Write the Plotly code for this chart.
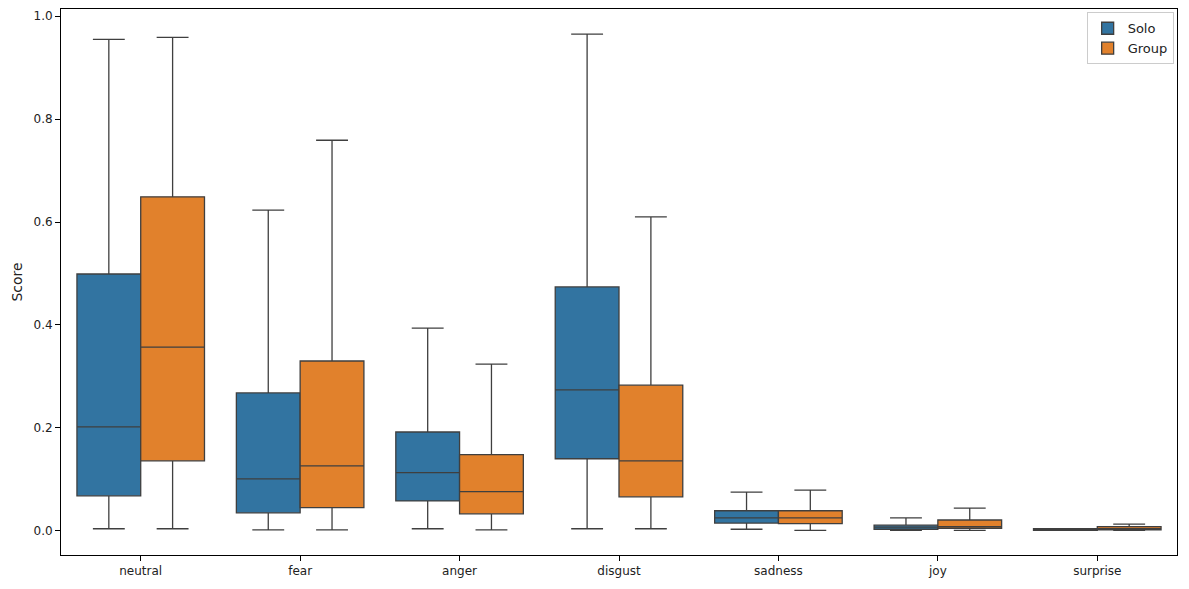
import plotly.graph_objects as go

categories = ["neutral", "fear", "anger", "disgust", "sadness", "joy", "surprise"]

solo_lower = [0.004, 0.002, 0.004, 0.004, 0.003, 0.001, 0.001]
solo_q1 = [0.068, 0.035, 0.058, 0.140, 0.015, 0.003, 0.001]
solo_median = [0.202, 0.101, 0.113, 0.274, 0.025, 0.007, 0.002]
solo_q3 = [0.499, 0.268, 0.192, 0.474, 0.039, 0.011, 0.004]
solo_upper = [0.955, 0.623, 0.394, 0.965, 0.075, 0.025, 0.004]

group_lower = [0.004, 0.002, 0.002, 0.004, 0.001, 0.001, 0.001]
group_q1 = [0.136, 0.045, 0.033, 0.066, 0.014, 0.005, 0.002]
group_median = [0.357, 0.126, 0.076, 0.136, 0.025, 0.008, 0.004]
group_q3 = [0.649, 0.330, 0.148, 0.283, 0.039, 0.021, 0.008]
group_upper = [0.959, 0.759, 0.324, 0.610, 0.079, 0.044, 0.013]

FONT = "DejaVu Sans"
LINE = "#3f3f3f"

fig = go.Figure()
for name, color, lo, q1, med, q3, up in [
    ("Solo", "#3274a1", solo_lower, solo_q1, solo_median, solo_q3, solo_upper),
    ("Group", "#e1812c", group_lower, group_q1, group_median, group_q3, group_upper),
]:
    fig.add_trace(go.Box(
        name=name, x=categories, q1=q1, median=med, q3=q3,
        lowerfence=lo, upperfence=up,
        fillcolor=color, line=dict(color=LINE, width=1.3),
        whiskerwidth=0.5, boxpoints=False, hoverinfo="skip",
    ))

fig.update_layout(
    boxmode="group", boxgap=0.2, boxgroupgap=0,
    width=1189, height=589,
    margin=dict(l=61, r=12, t=9, b=34, autoexpand=False),
    plot_bgcolor="white", paper_bgcolor="white",
    font=dict(family=FONT, size=12, color="#222222"),
    legend=dict(x=0.997, y=0.994, xanchor="right", yanchor="top",
                bordercolor="#cccccc", borderwidth=1, bgcolor="white",
                font=dict(size=13), tracegroupgap=2),
    xaxis=dict(type="category", range=[-0.5, 6.5], showgrid=False, automargin=False,
               showline=True, linecolor="black", linewidth=1, mirror=True,
               ticks="outside", ticklen=5, tickcolor="black"),
    yaxis=dict(range=[-0.047, 1.014], showgrid=False, zeroline=False, automargin=False,
               showline=True, linecolor="black", linewidth=1, mirror=True,
               ticks="outside", ticklen=5, tickcolor="black",
               tickvals=[0, 0.2, 0.4, 0.6, 0.8, 1.0], tickformat=".1f",
               title=dict(text="Score", standoff=7)),
)

fig.write_html("out.html", config={"displayModeBar": False},
               post_script="document.body.style.margin='0';")
